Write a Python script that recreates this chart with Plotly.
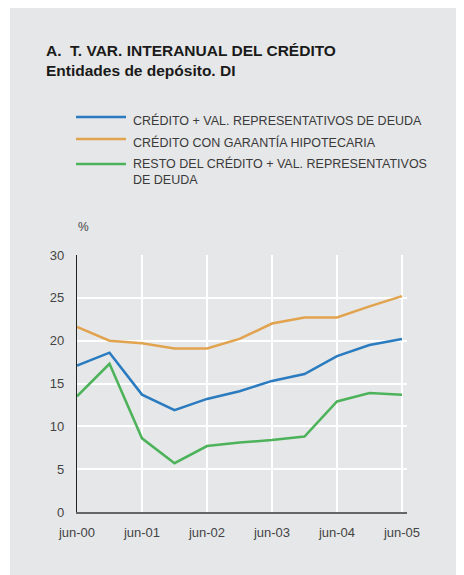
import plotly.graph_objects as go

# Data (half-yearly observations, jun-00 .. jun-05)
x_pos = [0, 0.5, 1, 1.5, 2, 2.5, 3, 3.5, 4, 4.5, 5]
tick_vals = [0, 1, 2, 3, 4, 5]
tick_labels = ["jun-00", "jun-01", "jun-02", "jun-03", "jun-04", "jun-05"]

credito_val = [17.1, 18.6, 13.7, 11.9, 13.2, 14.1, 15.3, 16.1, 18.2, 19.5, 20.2]
hipotecaria = [21.6, 20.0, 19.7, 19.1, 19.1, 20.2, 22.0, 22.7, 22.7, 24.0, 25.2]
resto = [13.5, 17.3, 8.6, 5.7, 7.7, 8.1, 8.4, 8.8, 12.9, 13.9, 13.7]

series_names = [
    "CRÉDITO + VAL. REPRESENTATIVOS DE DEUDA",
    "CRÉDITO CON GARANTÍA HIPOTECARIA",
    "RESTO DEL CRÉDITO + VAL. REPRESENTATIVOS<br>DE DEUDA",
]
series_values = [credito_val, hipotecaria, resto]
colors = ["#2a7bbf", "#e2a34f", "#4db35b"]

# page body has an 8px margin; figure is sized so it ends at the window edge
OFF = 8
W, H = 464 - OFF, 575 - OFF
# plot area in window pixels: left 77, right 407, top 255, bottom 511.7
L, T = 77 - OFF, 255 - OFF
R = W - (407 - OFF)
B = H - (512 - OFF)
PW, PH = W - L - R, H - T - B


def px_x(x):  # window pixel -> paper
    return (x - OFF - L) / PW


def px_y(y):
    return (H - B - (y - OFF)) / PH


fig = go.Figure()
for name, vals, col in zip(series_names, series_values, colors):
    fig.add_trace(go.Scatter(x=x_pos, y=vals, mode="lines", name=name.replace("<br>", " "),
                             line=dict(color=col, width=2.5), showlegend=False))

FONT = "Liberation Sans, Arial, sans-serif"
bg = "#e6e7e8"

shapes = [
    dict(type="rect", xref="paper", yref="paper", x0=px_x(10), x1=px_x(470),
         y0=px_y(580), y1=px_y(7), fillcolor=bg, line=dict(width=0), layer="below"),
]
annotations = []
legend_rows = [(117, 111), (139, 133), (164, 154)]
for (ly, ty), name, col in zip(legend_rows, series_names, colors):
    shapes.append(dict(type="line", xref="paper", yref="paper", x0=px_x(76), x1=px_x(126),
                       y0=px_y(ly), y1=px_y(ly), line=dict(color=col, width=2.5)))
    annotations.append(dict(xref="paper", yref="paper", x=px_x(131), y=px_y(ty),
                            xanchor="left", yanchor="top", text=name, showarrow=False,
                            align="left", font=dict(family=FONT, size=12.5, color="#3a3a3a")))

annotations.append(dict(xref="paper", yref="paper", x=px_x(83), y=px_y(227), text="%",
                        showarrow=False, xanchor="center", yanchor="middle",
                        font=dict(family=FONT, size=12, color="#444")))
annotations.append(dict(xref="paper", yref="paper", x=px_x(44), y=px_y(40),
                        xanchor="left", yanchor="top", align="left", showarrow=False,
                        text="<b>A.  T. VAR. INTERANUAL DEL CRÉDITO</b><br><b>Entidades de depósito. DI</b>",
                        font=dict(family=FONT, size=15.5, color="#1a1a1a")))

fig.update_layout(
    width=W, height=H,
    margin=dict(l=L, r=R, t=T, b=B, pad=0),
    paper_bgcolor="white", plot_bgcolor=bg,
    shapes=shapes, annotations=annotations,
    showlegend=False,
    xaxis=dict(range=[0, 5.077], tickvals=tick_vals, ticktext=tick_labels,
               showgrid=True, gridcolor="white", gridwidth=1.5,
               showline=True, linecolor="#666", linewidth=1.5,
               ticks="", ticklabelstandoff=8, zeroline=False,
               tickfont=dict(family=FONT, size=13, color="#444")),
    yaxis=dict(range=[0, 30], tickvals=[0, 5, 10, 15, 20, 25, 30],
               showgrid=True, gridcolor="white", gridwidth=1.5,
               showline=True, linecolor="#222", linewidth=1.2,
               ticks="", ticklabelstandoff=9, zeroline=False,
               tickfont=dict(family=FONT, size=13, color="#444")),
)

fig.write_html("out.html")
